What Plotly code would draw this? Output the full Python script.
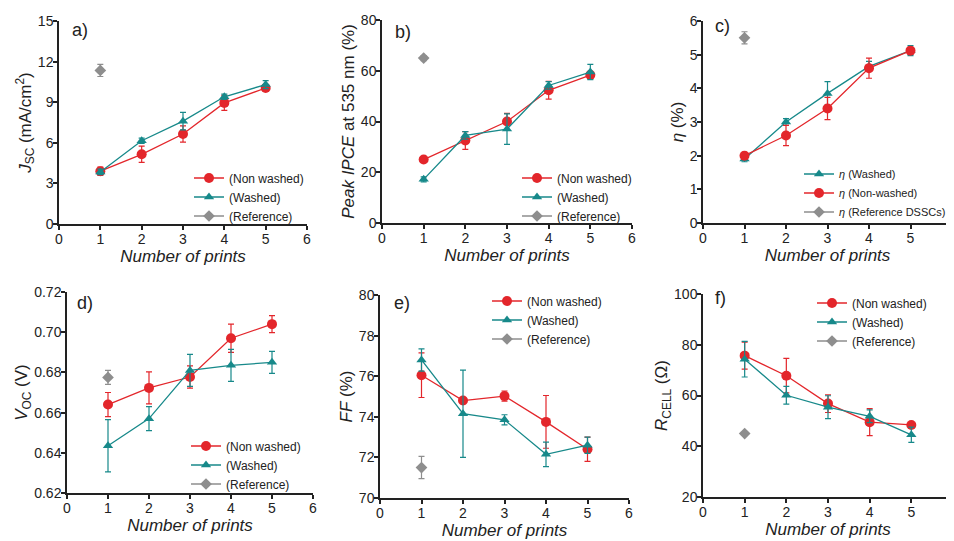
import plotly.graph_objects as go

x_prints = [1, 2, 3, 4, 5]
x_ref = [1]

# a) Jsc
jsc_nw = [3.9, 5.15, 6.65, 8.95, 10.05]
jsc_nw_err = [0.3, 0.6, 0.6, 0.55, 0.2]
jsc_w = [3.85, 6.15, 7.6, 9.4, 10.3]
jsc_w_err = [0.2, 0.2, 0.65, 0.2, 0.3]
jsc_ref = [11.35]
jsc_ref_err = [0.45]

# b) IPCE
ipce_nw = [25.0, 32.5, 40.0, 52.3, 58.3]
ipce_nw_err = [0.5, 3.5, 3.2, 3.5, 1.5]
ipce_w = [17.2, 34.5, 37.0, 54.2, 59.5]
ipce_w_err = [1.0, 1.5, 6.0, 1.5, 3.0]
ipce_ref = [65.0]
ipce_ref_err = [1.0]

# c) efficiency
eta_w = [1.9, 3.0, 3.85, 4.65, 5.12]
eta_w_err = [0.08, 0.1, 0.35, 0.15, 0.15]
eta_nw = [2.0, 2.6, 3.4, 4.6, 5.12]
eta_nw_err = [0.1, 0.3, 0.33, 0.3, 0.1]
eta_ref = [5.5]
eta_ref_err = [0.18]

# d) Voc
voc_nw = [0.664, 0.6723, 0.6777, 0.697, 0.704]
voc_nw_err = [0.006, 0.008, 0.0055, 0.007, 0.0042]
voc_w = [0.6435, 0.657, 0.681, 0.6835, 0.685]
voc_w_err = [0.013, 0.006, 0.008, 0.008, 0.0055]
voc_ref = [0.6775]
voc_ref_err = [0.0035]

# e) FF
ff_nw = [76.05, 74.8, 75.02, 73.75, 72.4]
ff_nw_err = [1.1, 0.15, 0.25, 1.3, 0.6]
ff_w = [76.8, 74.15, 73.85, 72.15, 72.6]
ff_w_err = [0.55, 2.15, 0.25, 0.6, 0.4]
ff_ref = [71.5]
ff_ref_err = [0.55]

# f) Rcell
r_nw = [75.7, 67.8, 56.8, 49.5, 48.4]
r_nw_err = [5.3, 6.8, 3.5, 5.3, 0.5]
r_w = [74.3, 60.1, 55.4, 51.8, 44.5]
r_w_err = [7.0, 3.5, 4.5, 2.5, 3.0]
r_ref = [45.0]
r_ref_err = [0.5]

RED = "#e3262b"
TEAL = "#17898a"
GREY = "#8e8e8e"
FONT = "Arial, Liberation Sans, sans-serif"
W, H = 954, 541
OFF = 8  # page body margin


def px_x(px):
    return (px - OFF) / W


def px_y(px):
    return 1 - (px - OFF) / H


# layout in page pixels: x0, x1 (axis left/right), ytop, ybot, legend left, legend middle y, label offset
panels = [
    dict(label="a)", ytitle="<i>J</i><sub>SC</sub> (mA/cm<sup>2</sup>)", yrange=[0, 15], dtick=3, tickformat="d",
         series=[("(Non washed)", jsc_nw, jsc_nw_err, "nw"), ("(Washed)", jsc_w, jsc_w_err, "w"),
                 ("(Reference)", jsc_ref, jsc_ref_err, "ref")],
         box=(59, 307, 21, 224), leg=(189, 197), legfont=12, lab=(11, 9)),
    dict(label="b)", ytitle="<i>Peak IPCE</i> at 535 nm (%)", yrange=[0, 80], dtick=20, tickformat="d",
         series=[("(Non washed)", ipce_nw, ipce_nw_err, "nw"), ("(Washed)", ipce_w, ipce_w_err, "w"),
                 ("(Reference)", ipce_ref, ipce_ref_err, "ref")],
         box=(382, 632, 20, 223), leg=(517, 197), legfont=12, lab=(11, 12)),
    dict(label="c)", ytitle="<i>η</i> (%)", yrange=[0, 6], dtick=1, tickformat="d",
         series=[("<i>η</i> (Washed)", eta_w, eta_w_err, "w"), ("<i>η</i> (Non-washed)", eta_nw, eta_nw_err, "nw"),
                 ("<i>η</i> (Reference DSSCs)", eta_ref, eta_ref_err, "ref")],
         box=(703, 952, 21, 223), leg=(799, 193), legfont=11, lab=(10, 5)),
    dict(label="d)", ytitle="<i>V</i><sub>OC</sub> (V)", yrange=[0.62, 0.72], dtick=0.02, tickformat=".2f",
         series=[("(Non washed)", voc_nw, voc_nw_err, "nw"), ("(Washed)", voc_w, voc_w_err, "w"),
                 ("(Reference)", voc_ref, voc_ref_err, "ref")],
         box=(67, 313, 292, 493), leg=(186, 465), legfont=12, lab=(8, 11)),
    dict(label="e)", ytitle="<i>FF</i> (%)", yrange=[70, 80], dtick=2, tickformat="d",
         series=[("(Non washed)", ff_nw, ff_nw_err, "nw"), ("(Washed)", ff_w, ff_w_err, "w"),
                 ("(Reference)", ff_ref, ff_ref_err, "ref")],
         box=(380, 629, 295, 498), leg=(487, 320), legfont=12, lab=(12, 8)),
    dict(label="f)", ytitle="<i>R</i><sub>CELL</sub> (Ω)", yrange=[20, 100], dtick=20, tickformat="d",
         series=[("(Non washed)", r_nw, r_nw_err, "nw"), ("(Washed)", r_w, r_w_err, "w"),
                 ("(Reference)", r_ref, r_ref_err, "ref")],
         box=(703, 953, 294, 497), leg=(812, 322), legfont=12, lab=(10, 4)),
]

styles = {
    "nw": dict(color=RED, symbol="circle", size=10),
    "w": dict(color=TEAL, symbol="triangle-up", size=9),
    "ref": dict(color=GREY, symbol="diamond", size=9),
}

fig = go.Figure()
layout = dict(
    width=W, height=H, margin=dict(l=0, r=0, t=0, b=0, autoexpand=False),
    paper_bgcolor="white", plot_bgcolor="white",
    font=dict(family=FONT, color="#222", size=14),
    annotations=[],
)

for i, p in enumerate(panels, start=1):
    xa = "x" if i == 1 else f"x{i}"
    ya = "y" if i == 1 else f"y{i}"
    legname = "legend" if i == 1 else f"legend{i}"
    x0, x1, yt, yb = p["box"]
    for name, vals, errs, key in p["series"]:
        st = styles[key]
        xs = x_ref if key == "ref" else x_prints
        fig.add_trace(go.Scatter(
            x=xs, y=vals, name=name, mode="lines+markers",
            xaxis=xa, yaxis=ya, legend=legname,
            line=dict(color=st["color"], width=1.3),
            marker=dict(color=st["color"], symbol=st["symbol"], size=st["size"]),
            error_y=dict(type="data", array=errs, color=st["color"], thickness=1.2, width=3),
            cliponaxis=False,
        ))
    axis_common = dict(showline=True, linecolor="#222", linewidth=1.5, ticks="outside",
                       ticklen=4, tickwidth=1.5, tickcolor="#222", showgrid=False, zeroline=False,
                       automargin=False, ticklabelstandoff=-3, ticklabeloverflow="allow",
                       tickfont=dict(size=14, family=FONT, color="#222"))
    layout["xaxis" if i == 1 else f"xaxis{i}"] = dict(
        domain=[px_x(x0), min(px_x(x1), 1)], range=[0, 6], dtick=1, anchor=ya,
        title=dict(text="<i>Number of prints</i>", font=dict(size=17, family=FONT, color="#222"), standoff=4),
        **axis_common)
    layout["yaxis" if i == 1 else f"yaxis{i}"] = dict(
        domain=[px_y(yb), px_y(yt)], range=p["yrange"], dtick=p["dtick"], tickformat=p["tickformat"], anchor=xa,
        title=dict(text=p["ytitle"], font=dict(size=17, family=FONT, color="#222"), standoff=2),
        **axis_common)
    layout[legname] = dict(
        x=px_x(p["leg"][0]), y=px_y(p["leg"][1]), xanchor="left", yanchor="middle",
        bgcolor="rgba(0,0,0,0)", font=dict(size=p["legfont"], family=FONT, color="#222"),
        itemwidth=30, tracegroupgap=0, traceorder="normal",
    )
    dx, dy = p["lab"]
    layout["annotations"].append(dict(
        text=p["label"], xref="paper", yref="paper", x=px_x(x0 + dx), y=px_y(yt + dy),
        xanchor="left", yanchor="middle", showarrow=False, font=dict(size=18, family=FONT, color="#222")))

fig.update_layout(**layout)
fig.write_html("out.html")
